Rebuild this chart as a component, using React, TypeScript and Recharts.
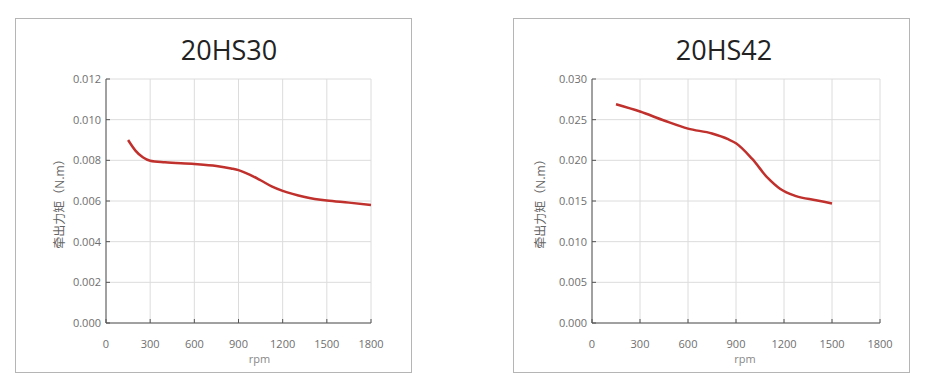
import React from 'react';
import { LineChart, Line, XAxis, YAxis, CartesianGrid } from 'recharts';

const rpmTicks = [0, 300, 600, 900, 1200, 1500, 1800];

const hs30Ticks = [0, 0.002, 0.004, 0.006, 0.008, 0.01, 0.012];
const hs30Rpm = [150, 200, 250, 300, 400, 600, 750, 850, 900, 975, 1050, 1125, 1200, 1350, 1500, 1650, 1800];
const hs30Torque = [0.009, 0.00848, 0.00815, 0.00798, 0.0079, 0.00782, 0.00772, 0.0076, 0.00752, 0.0073, 0.00702, 0.00672, 0.0065, 0.0062, 0.00602, 0.00592, 0.0058];

const hs42Ticks = [0, 0.005, 0.01, 0.015, 0.02, 0.025, 0.03];
const hs42Rpm = [150, 300, 450, 600, 750, 850, 900, 1000, 1100, 1175, 1275, 1400, 1500];
const hs42Torque = [0.0269, 0.026, 0.0249, 0.0239, 0.0233, 0.0226, 0.0221, 0.0202, 0.0178, 0.0165, 0.0156, 0.0151, 0.0147];

const yLabel = '牵出力矩（N.m）';
const font = '"Open Sans", "Noto Sans CJK SC", sans-serif';

interface PanelProps {
  title: string;
  rpm: number[];
  torque: number[];
  yTicks: number[];
  left: number;
  plotLeft: number;
  plotRight: number;
  labelX: number;
  titleX: number;
  rpmDx: number;
}

const Panel: React.FC<PanelProps> = ({ title, rpm, torque, yTicks, left, plotLeft, plotRight, labelX, titleX, rpmDx }) => {
  const data = rpm.map((r, i) => ({ rpm: r, torque: torque[i] }));
  const w = 397;
  const h = 355;
  return (
    <div style={{ position: 'absolute', left, top: 18, width: w, height: h, border: '1.5px solid #b5b5b5', boxSizing: 'border-box' }}>
      <div style={{ position: 'absolute', left: titleX - 100, width: 200, top: 12, textAlign: 'center', fontFamily: font, fontSize: 27, color: '#222' }}>
        {title}
      </div>
      <LineChart width={w} height={h} data={data} margin={{ top: 61, right: plotRight, bottom: 0, left: 0 }} style={{ position: 'absolute', left: -1.5, top: -1.5 }}>
        <CartesianGrid stroke="#dcdcdc" strokeWidth={1} />
        <XAxis
          dataKey="rpm"
          type="number"
          domain={[0, 1800]}
          ticks={rpmTicks}
          height={50}
          stroke="#555"
          tickSize={-4}
          tickMargin={21}
          tick={{ fill: '#6f6f6f', fontSize: 11, fontFamily: font }}
          label={{ value: 'rpm', position: 'insideBottom', offset: 10, dx: rpmDx, fill: '#888', fontSize: 11, fontFamily: font }}
        />
        <YAxis
          type="number"
          domain={[yTicks[0], yTicks[yTicks.length - 1]]}
          ticks={yTicks}
          width={plotLeft}
          stroke="#555"
          tickSize={-4}
          tickMargin={9}
          tickFormatter={(v: number) => v.toFixed(3)}
          tick={{ fill: '#6f6f6f', fontSize: 11, fontFamily: font }}
          label={{ value: yLabel, angle: -90, position: 'insideLeft', offset: labelX + 3, fill: '#666', fontSize: 12, fontFamily: font, style: { textAnchor: 'middle' } }}
        />
        <Line type="monotone" dataKey="torque" stroke="#c0302c" strokeWidth={2.5} dot={false} isAnimationActive={false} />
      </LineChart>
    </div>
  );
};

export default function App() {
  return (
    <div style={{ position: 'absolute', left: 0, top: 0, width: 930, height: 391, background: '#fff' }}>
      <Panel title="20HS30" rpm={hs30Rpm} torque={hs30Torque} yTicks={hs30Ticks} left={15} plotLeft={91} plotRight={41} labelX={42} titleX={213} rpmDx={21} />
      <Panel title="20HS42" rpm={hs42Rpm} torque={hs42Torque} yTicks={hs42Ticks} left={513} plotLeft={79} plotRight={30} labelX={25} titleX={210} rpmDx={9} />
    </div>
  );
}
